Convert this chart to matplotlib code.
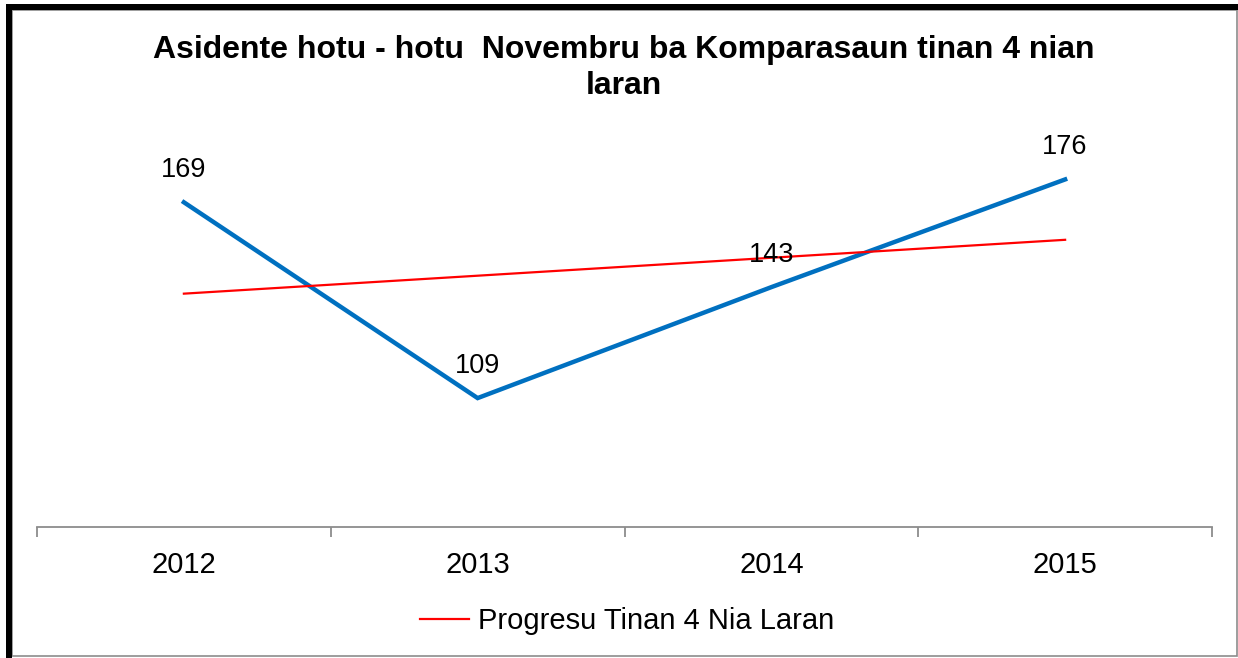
import matplotlib
matplotlib.use("Agg")
import matplotlib.pyplot as plt
import numpy as np
from matplotlib.lines import Line2D
from matplotlib.patches import Rectangle

plt.rcParams['font.family'] = ['Liberation Sans', 'DejaVu Sans']

years = ["2012", "2013", "2014", "2015"]
accidents = [169, 109, 143, 176]
title_line1 = "Asidente hotu - hotu  Novembru ba Komparasaun tinan 4 nian"
title_line2 = "laran"
trend_label = "Progresu Tinan 4 Nia Laran"

W, H = 1238, 658
fig = plt.figure(figsize=(W / 100, H / 100), dpi=100)

# frame: thick black top/left, thin grey right/bottom
fig.patches.append(Rectangle((12 / W, 2 / H), (1225 / W), (646 / H), transform=fig.transFigure,
                             fill=False, edgecolor='#8c8c8c', linewidth=1.2))
fig.patches.append(Rectangle((6 / W, 0), 6 / W, (H - 4) / H, transform=fig.transFigure,
                             color='black', linewidth=0))
fig.patches.append(Rectangle((6 / W, (H - 10) / H), (W - 6) / W, 6 / H, transform=fig.transFigure,
                             color='black', linewidth=0))

ax = fig.add_axes([37 / W, (H - 527) / H, (1212 - 37) / W, (527 - 137) / H])
x = np.arange(len(years))
ax.plot(x, accidents, color='#0070C0', linewidth=3.2, solid_joinstyle='miter', zorder=3)

# linear trendline
coef = np.polyfit(x, accidents, 1)
ax.plot(x[[0, -1]], np.polyval(coef, x[[0, -1]]), color='#FF0000', linewidth=1.6, zorder=4)

for xi, v in zip(x, accidents):
    ax.annotate(str(v), (xi, v), xytext=(0, 23), textcoords='offset points',
                ha='center', va='center', fontsize=19.5, color='black', zorder=5)

ax.set_xlim(-0.5, 3.5)
ax.set_ylim(69.5, 189)
for s in ['top', 'right', 'left']:
    ax.spines[s].set_visible(False)
ax.spines['bottom'].set_color('#8c8c8c')
ax.spines['bottom'].set_linewidth(1.3)
ax.set_yticks([])
ax.set_xticks([-0.5, 0.5, 1.5, 2.5, 3.5])
ax.set_xticklabels([])
ax.tick_params(axis='x', length=7, width=1.3, color='#8c8c8c', direction='out')
ax.set_xticks(x, minor=True)
ax.set_xticklabels(years, minor=True, fontsize=21)
ax.tick_params(axis='x', which='minor', length=0, pad=17)

fig.text(624 / W, 1 - 50 / H, title_line1, ha='center', va='center', fontsize=23, fontweight='bold')
fig.text(624 / W, 1 - 86 / H, title_line2, ha='center', va='center', fontsize=23, fontweight='bold')

handle = Line2D([], [], color='#FF0000', linewidth=1.6)
fig.legend([handle], [trend_label], loc='center', bbox_to_anchor=(627 / W, 1 - 621 / H),
           frameon=False, fontsize=21, handlelength=1.7, handletextpad=0.3)

fig.savefig("out.png", dpi=100)
